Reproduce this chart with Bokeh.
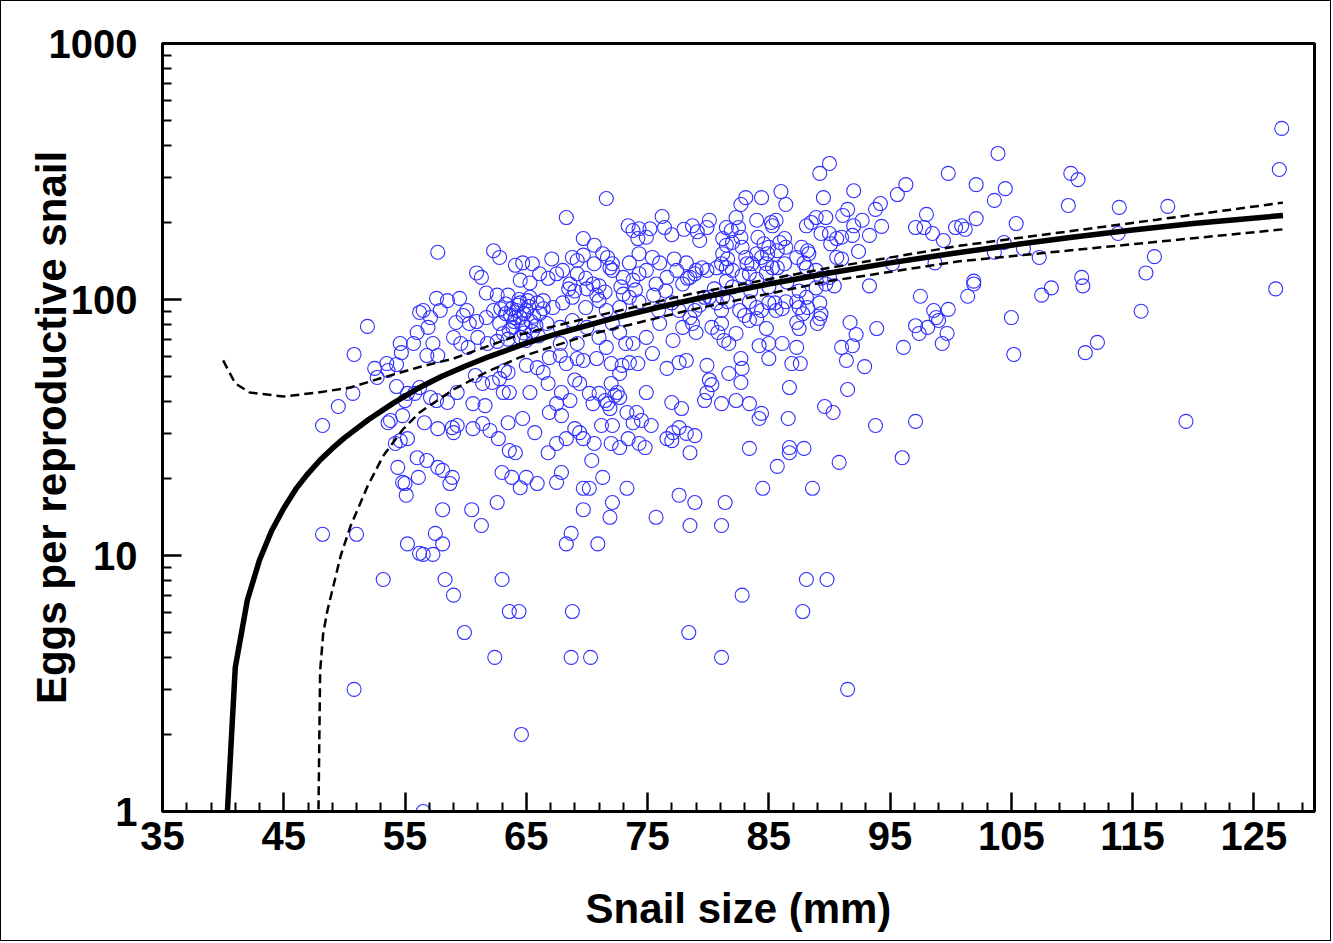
from bokeh.plotting import figure
from bokeh.models import FixedTicker, NumeralTickFormatter, Range1d, ColumnDataSource
from bokeh.embed import file_html
from bokeh.resources import INLINE

# ---------------- data ----------------
# observed snails: (size mm, eggs per reproductive snail)
pts_right = [(127.3,466),(127.1,322),(126.8,110),(103.9,372),(102.1,281),(104.5,271),(103.6,244),(102.1,207),
             (100.9,194),(101.2,188),(105.4,198),(109.9,311),(110.5,294),(109.7,233),(113.9,229),(117.9,231),
             (113.8,181),(104.4,167),(106.0,158),(103.6,153),(107.3,146),(116.8,147),(116.1,127),(101.9,118),
             (101.9,115),(101.4,103),(108.3,111),(107.5,104),(110.8,122),(110.9,113),(115.7,90),(105.0,85),
             (105.2,61),(111.1,62),(112.1,68),(119.4,33.4)]
pts_upper_mid = [(90.0,340),(89.2,311),(99.8,311),(96.3,281),(95.6,257),(92.0,266),(89.5,250),(86.0,264),(86.4,235),
                 (84.4,250),(83.1,250),(82.7,235),(94.2,237),(93.8,225),(91.5,225),(91.1,213),(92.7,204),(92.0,194),
                 (91.9,178),(94.3,193),(93.3,178),(92.4,154),(98.0,215),(97.1,191),(97.8,191),(98.5,181),(99.4,170),
                 (100.4,191),(98.7,139),(95.2,138),(93.3,113),(97.5,103),(98.6,90.6),(98.8,85),(99.8,91.5),(99.0,82.8),
                 (97.1,79),(97.4,73.7),(98.1,77.8),(99.7,73.7),(99.3,67.3),(93.9,77),(91.7,81.3),(92.2,73),(96.1,65),
                 (91.0,65),(91.9,66)]
pts_dense_right = [(78.7,194),(79.1,184),(79.3,170),(80.1,204),(79.9,191),(81.5,191),(81.9,186),(81.2,173),(81.5,163),
                   (82.0,167),(82.5,191),(82.7,175),(82.3,209),(84.0,204),(85.2,200),(85.6,204),(85.3,194),(84.1,175),
                   (84.6,165),(85.0,160),(85.9,167),(86.3,173),(86.4,160),(84.9,151),(85.7,155),(87.7,160),(88.2,155),
                   (88.1,194),(88.5,200),(88.9,209),(89.3,181),(89.7,209),(90.0,181),(90.1,165),(90.6,173),(91.0,175),
                   (90.6,146),(91.0,144),(87.3,146),(87.9,139),(88.3,151),(84.0,151),(84.4,146),(84.8,138),(85.3,133),
                   (85.7,133),(86.3,138),(82.8,160),(83.1,146),(83.2,138),(83.6,138),(81.2,151),(81.6,144),(81.5,133),
                   (81.1,138),(82.0,130),(79.0,130),(79.5,133),(79.9,130),(80.7,133),(78.5,122),(78.9,126),(82.8,124),
                   (83.4,126),(84.8,127),(88.1,133),(88.9,130),(89.3,121),(89.7,115),(88.9,111),
                   (87.5,108),(88.1,102),(87.3,98),(86.4,98),(86.1,92),(85.5,97),(85.0,97),(84.4,90.6),(84.0,93),
                   (83.4,98),(82.6,90.6),(83.0,86.6),(83.4,82.8),(84.0,84.3),(84.8,77),(85.6,90.6),(87.5,93),(87.8,88),
                   (88.2,93),(89.2,97),(89.3,88),(89.2,84.3),(87.3,81.3),(87.5,77),(90.4,113),(90.0,122),(81.2,102),
                   (81.6,98),(81.1,90.6),(80.7,97),(80.1,102),(79.7,102),(79.3,95),(78.9,90.6),(78.5,85),(78.7,80.6),
                   (79.0,74.3),(80.3,77.8),(80.8,74.3),(81.1,80.6),(81.3,69.2),(81.7,67.3),(82.3,73.7),(84.2,66),
                   (85.0,67.3),(86.1,67.3),(87.3,65),(89.0,80.6)]
pts_low_right = [(79.9,55.3),(81.7,51.4),(82.7,58.8),(82.8,53.8),(82.7,47.4),(80.1,48.5),(80.3,46.5),(79.9,43.3),
                 (79.7,40.3),(81.1,39.2),(82.3,40.3),(83.4,39.2),(85.0,58.8),(86.9,56.2),(87.6,56.2),(86.7,45.3),
                 (91.4,57.8),(92.9,54.7),(91.5,44.5),(89.6,38.2),(90.3,36.2),(84.4,35.9),(84.2,34.3),(86.6,34.3),
                 (93.8,32.2),(97.1,33.4),(78.9,29.4),(83.4,26.2),(86.7,26.4),(86.7,25.2),(87.9,26.2),(85.7,22.3),
                 (90.8,23.1),(96.0,24.1),(78.5,25.2),(84.5,18.3),(88.6,18.3),(78.9,16.1),(81.4,16.1),(78.5,13.1),
                 (81.1,13.1),(88.1,8.06),(89.8,8.06),(82.8,7.0),(87.8,6.04),(78.4,5.0),(81.1,4.0),(91.5,3.0)]
pts_bottom = [(59.0,7.0),(63.6,6.04),(64.4,6.04),(68.8,6.04),(59.9,5.0),(62.4,4.0),(68.7,4.0),(70.3,4.0),
              (64.6,2.0),(56.5,1.0),(50.8,3.0)]
pts_left = [(50.8,61),(52.5,53.8),(53.5,56.2),(54.3,55.7),(53.6,52.8),(52.7,49.6),(54.7,62),(50.7,43),(49.5,38.2),
            (48.2,32.2),(54.3,45.7),(55.2,43),(55.8,43),(55.0,40.3),(54.8,35.2),(53.8,33.7),(53.6,33.0),(55.2,28.6),
            (54.6,28.1),(54.2,27.4),(56.0,24.1),(54.4,22.1),(54.8,19.3),(55.0,19.1),(55.1,17.2),(56.1,20.2),
            (48.2,12.1),(51.0,12.1),(55.2,11.1),(53.2,8.06),(56.2,10.2),(51.9,78.5),(56.2,89),(56.0,74.3),
            (54.6,67.3),(55.7,67.3)]
pts_low_mid = [(56.8,60.4),(57.7,60.4),(63.2,52.8),(63.5,51.9),(62.8,49.1),(62.2,47.4),(61.4,47),(60.8,50.5),
               (65.0,55.3),(65.9,54.2),(66.4,51.9),(66.9,59.3),(67.8,60.4),(68.3,56.2),(69.2,58.8),(69.7,57.8),
               (70.8,58.8),(72.0,56.2),(72.9,55.3),(73.5,56.7),(74.2,56.2),(72.7,51.4),(72.0,47),(72.5,43.3),
               (72.7,41.4),(75.4,61.5),(76.6,53.8),(77.6,56.7),(78.2,57.8),(69.4,47),(69.0,48.5),(70.2,43),
               (70.5,39.2),(71.0,43),(71.5,40.3),(71.7,39.2),(71.9,37.5),(72.3,42.2),(66.8,47),(67.9,43.3),
               (68.6,40.3),(67.5,39.2),(66.9,36.2),(67.9,35.2),(65.3,43.3),(63.1,43.3),(63.6,43.3),(59.3,43.3),
               (58.5,39.6),(57.6,40.3),(57.1,41.4),(56.2,45.3),(60.6,39.2),(61.6,38.5),(74.9,43.3),(77.0,39.6),
               (77.8,37.5),(78.2,30),(77.6,31.6),(77.1,30.2),(76.6,28.6),(77.0,28.1),(73.3,36.2),(74.1,36.2),
               (74.5,33.7),(73.8,33.0),(75.3,32.2),(73.4,28.6),(74.3,27.4),(74.8,26.4),(72.7,26.4),(72.0,27.4),
               (71.2,32.2),(72.1,32.2),(69.0,31.3),(69.4,30.2),(69.7,28.6),(70.6,27.4),(68.3,28.6),(67.5,27.4),
               (66.8,25.2),(70.4,23.5),(71.3,20.2),(73.3,18.3),(69.7,18.3),(70.2,18.3),(67.9,21.1),(67.5,19.3),
               (72.1,16.1),(69.7,15.1),(71.9,14.1),(75.7,14.1),(77.6,17.2),(68.7,12.2),(68.3,11.1),(70.9,11.1),
               (63.0,21.1),(63.8,20.2),(65.0,20.2),(64.5,18.4),(65.9,19.1),(62.6,16.1),(60.5,15.1),(61.3,13.1),
               (58.1,15.1),(57.5,12.2),(58.1,11.1),(57.3,10.1),(56.5,10.1),(58.3,8.06),(63.0,8.06),(56.8,23.5),
               (57.7,22.1),(58.1,21.5),(58.9,20.2),(58.7,19.1),(56.6,33.0),(57.7,31.3),(58.9,31.6),(59.0,30.2),
               (59.3,32.2),(60.6,31.3),(61.4,32.8),(62.0,30.8),(62.7,28.6),(63.6,25.7),(64.1,25.2),(63.5,33.0),
               (64.7,34.3),(65.7,30.2)]
pts_dense_left = [(71.6,248),(68.3,209),(57.7,153),(62.3,155),(62.8,146),(60.9,127),(61.3,122),(69.7,173),(70.6,163),
                  (73.4,194),(73.8,186),(74.3,189),(75.2,189),(76.2,211),(76.4,191),(77.0,179),(78.0,188),(74.2,173),
                  (74.9,175),(64.1,136),(64.7,139),(65.5,138),(67.1,144),(68.8,146),(69.2,142),(69.7,149),(70.6,138),
                  (71.3,151),(71.7,146),(72.1,138),(73.5,139),(74.3,151),(75.4,146),(76.0,139),(77.2,144),(78.2,139),
                  (64.5,119),(65.3,116),(66.1,126),(66.8,121),(67.5,126),(68.0,130),(68.6,115),(69.2,126),(69.9,121),
                  (70.5,115),(71.0,113),(71.9,133),(72.1,130),(73.0,122),(73.8,119),(74.3,126),(74.9,130),(75.7,115),
                  (76.6,122),(77.4,130),(77.9,115),(78.3,121),(57.6,101),(58.5,99),(59.5,101),(60.1,90.6),(61.7,106),
                  (62.6,104),(63.5,104),(64.5,97),(65.3,102),(66.4,99),(67.2,93),(68.0,97),(68.8,102),(69.9,93),
                  (71.0,99),(71.6,90.6),(72.7,93),(73.5,102),(74.3,98),(75.9,90.6),(77.0,97),(77.6,90.6),(56.5,90.6),
                  (57.1,85),(57.9,90.6),(59.2,81.3),(59.8,86.6),(60.3,80.6),(60.9,82),(61.7,85),(62.3,90.6),(62.8,80.6),
                  (63.3,88),(63.6,75.7),(64.1,85),(56.9,77.8),(57.3,67.3),(59.0,71.1),(59.6,67.3),(60.2,65),(61.0,71.1),
                  (61.8,67.3),(62.6,68.6),(63.1,73.7),(64.2,90.6),(64.5,85),(64.7,80.6),(65.0,90.6),(63.9,77.8),
                  (64.5,71.1),(65.0,69.2),(65.5,75),(66.7,80.6),(67.8,77.8),(68.8,82.8),(70.0,77.8),(71.0,71.1),
                  (72.1,80.6),(72.7,74.3),(73.8,67.3),(74.9,71.1),(76.0,80.6),(77.1,69.2),(77.9,77.8),(67.8,67.3),
                  (69.2,67.3),(71.6,65),(73.2,67.3)]
# the heavily overlapped core of the cloud (approximate)
pts_core = [(63.8,92),(64.3,95),(64.8,88),(65.2,94),(65.6,86),(65.9,97),(64.0,82),(64.9,78),(65.4,82),(66.1,88),
            (63.3,96),(62.9,92),(66.4,92),(65.1,99),(64.4,100),(63.7,87),(65.8,79),(66.0,72),(63.5,70),(64.8,74),
            (69.0,108),(70.0,110),(71.5,107),(72.8,112),(74.0,109),(75.5,104),(76.5,108),(73.0,105),(70.8,104),
            (68.5,110),(80.5,110),(82.0,112),(83.5,108),(85.0,112),(86.5,117),(81.5,118),(84.0,120)]

# fitted curve and its confidence band
fit_x = [40.3, 41, 42, 43, 44, 45, 46, 47, 48, 49, 50, 52, 54, 56, 58, 60, 62, 65, 68, 72, 76, 80, 85, 90,
         95, 100, 105, 110, 115, 120, 127.4]
fit_y = [0.9, 3.65, 6.7, 9.6, 12.5, 15.3, 18.2, 20.9, 23.6, 26.2, 28.8, 34.0, 39.3, 44.8, 50.0, 55.0, 60.0,
         67.5, 74.5, 84.0, 93.5, 103.0, 115.0, 127.0, 139.0, 151.0, 163.0, 175.0, 187.0, 198.0, 213.0]
up_x = [40.0, 41.0, 42.2, 45.0, 47.8, 50.5, 53.2, 56.2, 59.0, 64.5, 70.0, 78.5, 90.0, 100.7, 117.0, 127.4]
up_y = [57.8, 47.0, 43.3, 41.8, 43.3, 45.3, 49.6, 54.5, 58.8, 73.0, 84.5, 105.0, 133.0, 162.0, 205.0, 239.0]
lo_x = [47.85, 48.0, 48.25, 48.6, 49.0, 49.7, 50.5, 51.9, 53.2, 54.8, 56.2, 59.0, 61.7, 64.5, 70.0, 78.5,
        90.0, 100.7, 117.0, 127.4]
lo_y = [0.9, 3.55, 4.95, 6.1, 7.3, 10.0, 13.0, 18.6, 24.5, 31.0, 36.2, 44.5, 52.0, 59.5, 72.5, 91.0,
        118.0, 141.0, 168.0, 188.0]

x_major = [35, 45, 55, 65, 75, 85, 95, 105, 115, 125]
y_major = [1, 10, 100, 1000]

# ---------------- figure ----------------
allpts = (pts_right + pts_upper_mid + pts_dense_right + pts_low_right + pts_bottom + pts_left
          + pts_low_mid + pts_dense_left + pts_core)
src = ColumnDataSource(dict(size=[a for a, b in allpts], eggs=[b for a, b in allpts]))

p = figure(width=1331, height=941, x_range=Range1d(35, 130), y_range=Range1d(1, 1000),
           y_axis_type="log", output_backend="svg", toolbar_location=None,
           min_border_left=161, min_border_right=18, min_border_top=42, min_border_bottom=131)
p.styles = {"border": "1px solid black"}
p.xgrid.visible = False
p.ygrid.visible = False
p.outline_line_color = "black"
p.outline_line_width = 3
p.background_fill_color = "white"
p.border_fill_color = "white"

p.scatter("size", "eggs", source=src, marker="circle", size=14, fill_color=None,
          line_color="#2f2fff", line_width=1.1)
p.line(fit_x, fit_y, line_color="black", line_width=5.5)
p.line(up_x, up_y, line_color="black", line_width=2.5, line_dash="9 5")
p.line(lo_x, lo_y, line_color="black", line_width=2.5, line_dash="9 5")

minor_x = [v for v in range(37, 130, 2) if (v - 35) % 10 != 0]
minor_y = [k * 10 ** d for d in range(3) for k in range(2, 10)]
p.xaxis.ticker = FixedTicker(ticks=x_major, minor_ticks=minor_x)
p.yaxis.ticker = FixedTicker(ticks=y_major, minor_ticks=minor_y)
p.xaxis.formatter = NumeralTickFormatter(format="0")
p.yaxis.formatter = NumeralTickFormatter(format="0")

for ax in (p.xaxis, p.yaxis):
    ax.axis_line_width = 3
    ax.axis_line_color = "black"
    ax.major_tick_in = 19
    ax.major_tick_out = 0
    ax.minor_tick_in = 9
    ax.minor_tick_out = 0
    ax.major_tick_line_width = 2.5
    ax.minor_tick_line_width = 2
    ax.major_tick_line_color = "black"
    ax.minor_tick_line_color = "black"
    ax.major_label_text_font = "Liberation Sans"
    ax.major_label_text_font_style = "bold"
    ax.major_label_text_font_size = "40px"
    ax.major_label_text_color = "black"
    ax.axis_label_text_font = "Liberation Sans"
    ax.axis_label_text_font_style = "bold"
    ax.axis_label_text_font_size = "42px"
    ax.axis_label_text_color = "black"

p.xaxis.axis_label = "Snail size (mm)"
p.yaxis.axis_label = "Eggs per reproductive snail"
p.xaxis.major_label_standoff = 10
p.yaxis.major_label_standoff = 25
p.xaxis.axis_label_standoff = 32
p.yaxis.axis_label_standoff = -29

open("out.html", "w").write(file_html(p, INLINE))
